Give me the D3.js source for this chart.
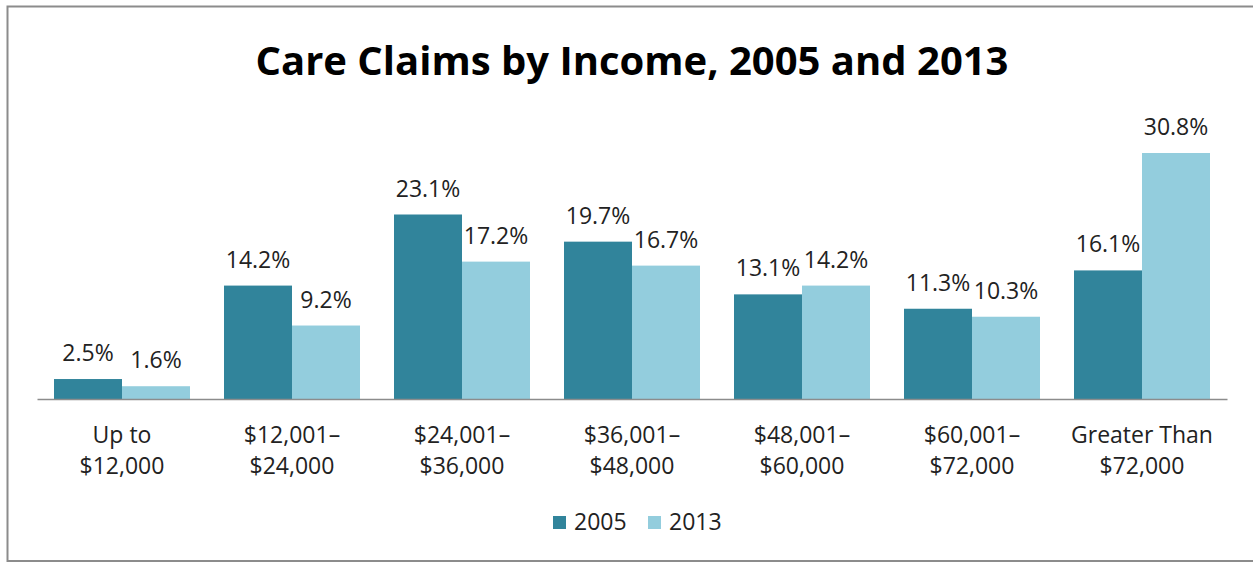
<!DOCTYPE html>
<html>
<head>
<meta charset="utf-8">
<script src="https://cdn.jsdelivr.net/npm/d3@7"></script>
<style>
  html, body { margin: 0; padding: 0; background: #fff; }
  svg { display: block; }
  text { font-family: "Open Sans", Lato, sans-serif; fill: #222; }
</style>
</head>
<body>
<svg id="chart" width="1253" height="563"></svg>
<script>
const categories = [["Up to", "$12,000"], ["$12,001–", "$24,000"], ["$24,001–", "$36,000"], ["$36,001–", "$48,000"], ["$48,001–", "$60,000"], ["$60,001–", "$72,000"], ["Greater Than", "$72,000"]];
const seriesNames = ["2005", "2013"];
const values2005 = [2.5, 14.2, 23.1, 19.7, 13.1, 11.3, 16.1];
const values2013 = [1.6, 9.2, 17.2, 16.7, 14.2, 10.3, 30.8];
const colors = ["#31849b", "#93cddd"];
const titleText = "Care Claims by Income, 2005 and 2013";

const svg = d3.select("#chart");
svg.append("rect").attr("x", 7.5).attr("y", 6.5).attr("width", 1260).attr("height", 554.5)
  .attr("fill", "#fff").attr("stroke", "#8c8c8c").attr("stroke-width", 2);

svg.append("text").attr("x", 632).attr("y", 75).attr("text-anchor", "middle")
  .attr("font-size", 40).attr("font-weight", "bold").style("fill", "#000").text(titleText);

const x0 = d3.scaleBand().domain(d3.range(categories.length)).range([37, 1227]).paddingInner(0).paddingOuter(0);
const x1 = d3.scaleBand().domain(seriesNames).range([0, x0.bandwidth()]).paddingInner(0).paddingOuter(0.25);
const y = d3.scaleLinear().domain([0, 30.8]).range([399, 153]);

const data = categories.map((c, i) => ({ i, vals: [values2005[i], values2013[i]] }));

const g = svg.append("g");
const groups = g.selectAll("g.grp").data(data).join("g").attr("class", "grp")
  .attr("transform", d => `translate(${x0(d.i)},0)`);

groups.selectAll("rect").data(d => d.vals.map((v, k) => ({ v, k })))
  .join("rect")
  .attr("x", d => x1(seriesNames[d.k]))
  .attr("width", x1.bandwidth())
  .attr("y", d => y(d.v))
  .attr("height", d => y(0) - y(d.v))
  .attr("fill", d => colors[d.k]);

groups.selectAll("text.val").data(d => d.vals.map((v, k) => ({ v, k })))
  .join("text").attr("class", "val")
  .attr("x", d => x1(seriesNames[d.k]) + x1.bandwidth() / 2)
  .attr("y", d => y(d.v) - 18)
  .attr("text-anchor", "middle").attr("font-size", 23)
  .text(d => d.v.toFixed(1) + "%");

// axis line
const axis = d3.axisBottom(x0).tickSize(0).tickFormat("");
const ax = svg.append("g").attr("transform", `translate(0,${y(0)})`).call(axis);
ax.select(".domain").attr("stroke", "#8c8c8c").attr("stroke-width", 1.5);

groups.each(function(d) {
  const t = d3.select(this).append("text").attr("text-anchor", "middle").attr("font-size", 23);
  categories[d.i].forEach((line, li) => {
    t.append("tspan").attr("x", x0.bandwidth() / 2).attr("y", 443 + li * 31).text(line);
  });
});

// legend
const legend = svg.append("g");
const legendItems = [{ name: seriesNames[0], x: 553 }, { name: seriesNames[1], x: 648 }];
legendItems.forEach((it, k) => {
  legend.append("rect").attr("x", it.x).attr("y", 516).attr("width", 13).attr("height", 13).attr("fill", colors[k]);
  legend.append("text").attr("x", it.x + 21).attr("y", 530).attr("font-size", 23).text(it.name);
});
</script>
</body>
</html>
